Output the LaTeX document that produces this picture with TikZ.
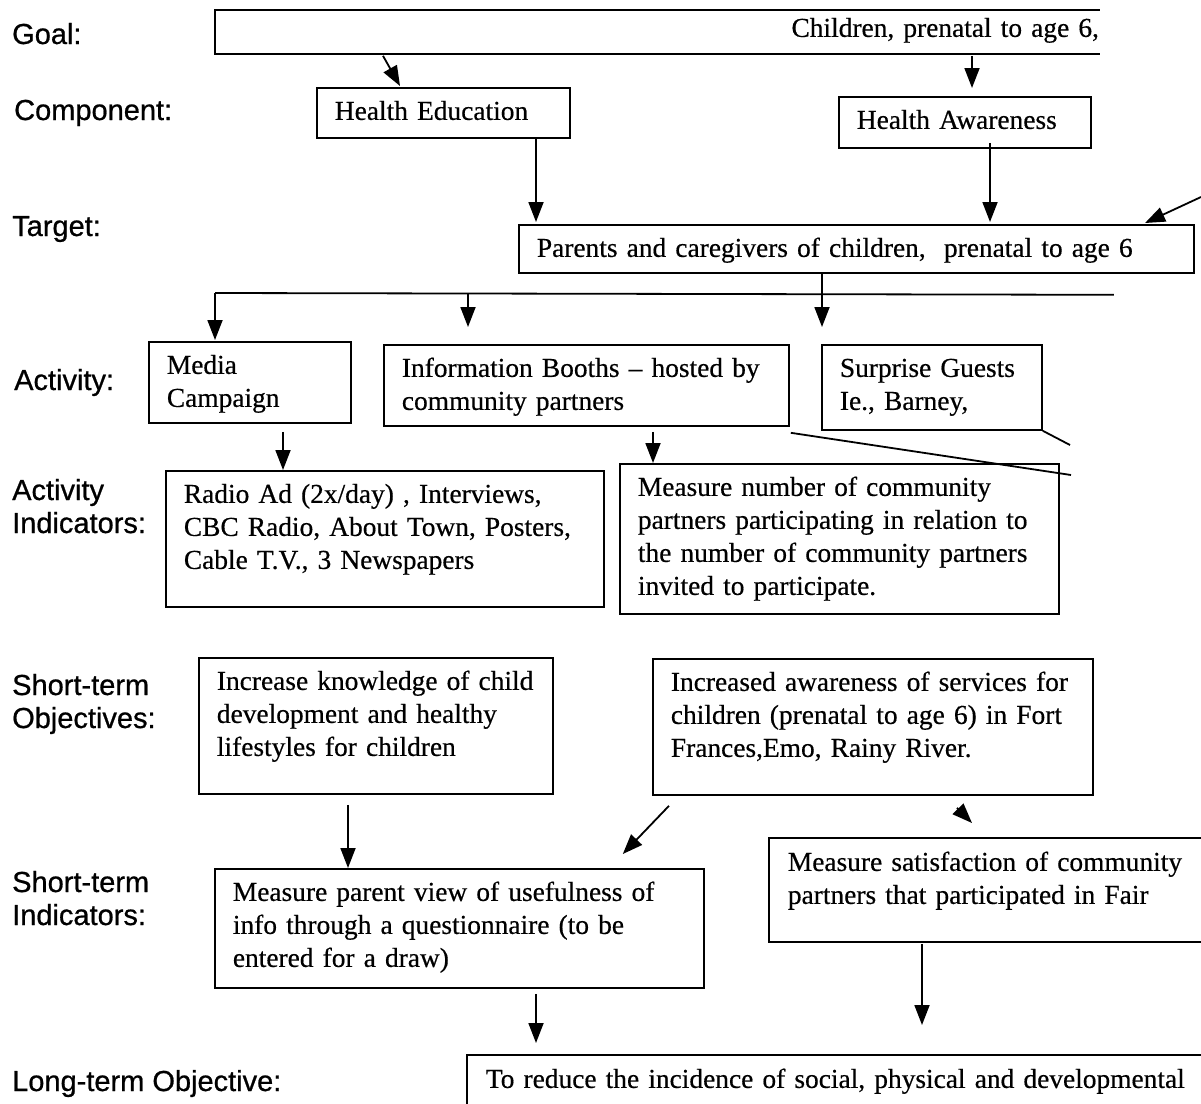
\documentclass[tikz,border=0pt]{standalone}
\usepackage{fontspec}
\setmainfont{Liberation Serif}
\setsansfont{Liberation Sans}
\newfontface\scanserif{Liberation Serif}[FakeBold=0.5]
\newfontface\scansans{Liberation Sans}[FakeBold=0.7]
\usetikzlibrary{arrows.meta,calc}
\newcommand\tx[1]{\begin{tabular}[t]{@{}l@{}}#1\end{tabular}}
\newcommand\bodyfnt{\scanserif\fontsize{27.4}{33}\selectfont}
\newcommand\labfnt{\scansans\fontsize{29}{33}\selectfont}
\tikzset{
  box/.style={draw, line width=1.8pt, anchor=north west, inner xsep=18pt, inner ysep=0pt,
              text height=32pt, align=left, font=\bodyfnt},
  lab/.style={anchor=base west, inner sep=0pt, font=\labfnt},
  arr/.style={line width=1.8pt, -{Triangle[length=20pt,width=15pt]}},
  ln/.style={line width=1.8pt}
}
\begin{document}
\begin{tikzpicture}[x=1pt,y=-1pt]
\fill[white] (0,0) rectangle (1201,1103);
\useasboundingbox (0,0) rectangle (1201,1103);

% row labels
\node[lab] (lgoal) at (12,44) {Goal:};
\node[lab] (lcomp) at (14,120) {Component:};
\node[lab] (ltarg) at (12,236) {Target:};
\node[lab] (lact) at (14,390) {Activity:};
\node[lab] (lactind) at (12,500) {\tx{Activity\\Indicators:}};
\node[lab] (lsto) at (12,695) {\tx{Short-term\\Objectives:}};
\node[lab] (lsti) at (12,892) {\tx{Short-term\\Indicators:}};
\node[lab] (llto) at (12,1091) {Long-term Objective:};

% boxes
\node[box, draw=none, inner xsep=0pt, text width=883pt, align=right, text height=26pt, text depth=16pt] (goal) at (215,10) {Children, prenatal to age 6,};
\draw[ln] (goal.north east) -- (goal.north west) -- (goal.south west) -- (goal.south east);

\node[box, text width=217pt, text depth=18pt] (he) at (316,87) {\tx{Health Education}};
\node[box, text width=216pt, text depth=19pt] (ha) at (838,96) {\tx{Health Awareness}};
\node[box, text width=639pt, text depth=16pt] (tg) at (518,224) {\tx{Parents and caregivers of children,\ \ prenatal to age 6}};

\node[box, text width=166pt, text depth=49pt] (mc) at (148,341) {\tx{Media\\Campaign}};
\node[box, text width=369pt, text depth=49pt] (ib) at (383,344) {\tx{Information Booths – hosted by\\community partners}};
\node[box, text width=184pt, text depth=53pt] (sg) at (821,344) {\tx{Surprise Guests\\Ie., Barney,}};

\node[box, text width=402pt, text depth=104pt] (ri) at (165,470) {\tx{Radio Ad (2x/day) , Interviews,\\CBC Radio, About Town, Posters,\\Cable T.V., 3 Newspapers}};
\node[box, text width=403pt, text depth=118pt] (mn) at (619,463) {\tx{Measure number of community\\partners participating in relation to\\the number of community partners\\invited to participate.}};

\node[box, text width=318pt, text depth=104pt] (o1) at (198,657) {\tx{Increase knowledge of child\\development and healthy\\lifestyles for children}};
\node[box, text width=404pt, text depth=104pt] (o2) at (652,658) {\tx{Increased awareness of services for\\children (prenatal to age 6) in Fort\\Frances,Emo, Rainy River.}};

\node[box, text width=453pt, text depth=87pt] (mp) at (214,868) {\tx{Measure parent view of usefulness of\\info through a questionnaire (to be\\entered for a draw)}};
\node[box, draw=none, text width=396pt, text depth=70pt] (ms) at (769,838) {\tx{Measure satisfaction of community\\partners that participated in Fair}};
\draw[ln] (ms.north east) -- (ms.north west) -- (ms.south west) -- (ms.south east);

\node[box, draw=none, text width=698pt, text depth=16pt] (lt) at (467,1055) {\tx{To reduce the incidence of social, physical and developmental}};
\draw[ln] (lt.north east) -- (lt.north west) -- (lt.south west);

% connectors
\draw[arr] ($(goal.south west)+(168,2)$) -- ($(he.north west)+(84,-1)$);
\draw[arr] ($(goal.south west)+(757,2)$) -- ($(ha.north west)+(134,-8)$);
\draw[arr] ($(he.south west)+(220,0)$) -- ($(tg.north west)+(18,-2)$);
\draw[arr] ($(ha.south west)+(152,-6)$) -- ($(tg.north west)+(472,-2)$);
\coordinate (ext) at (1201,197);
\draw[arr] (ext) -- ($(tg.north west)+(627,-1)$);

\coordinate (busL) at ($(mc.north west)+(67,-48)$);
\coordinate (busR) at ($(tg.south east)+(-81,21)$);
\draw[ln] (busL) -- (busR);
\draw[arr] (busL) -- ($(mc.north west)+(67,-1)$);
\draw[arr] ($(ib.north west)+(85,-51)$) -- ($(ib.north west)+(85,-17)$);
\draw[arr] ($(tg.south west)+(304,0)$) -- ($(sg.north west)+(1,-17)$);

\draw[arr] ($(mc.south west)+(135,8)$) -- ($(ri.north west)+(118,0)$);
\draw[arr] ($(ib.south west)+(270,5)$) -- ($(mn.north west)+(34,0)$);
\coordinate (e1) at (1071,475);
\coordinate (e2) at (1070,445);
\draw[ln] ($(ib.south east)+(1,6)$) -- (e1);
\draw[ln] (sg.south east) -- (e2);

\draw[arr] ($(o1.south west)+(150,10)$) -- ($(mp.north west)+(134,0)$);
\draw[arr] ($(o2.south west)+(17,10)$) -- ($(mp.north east)+(-82,-14)$);
\draw[arr] ($(o2.south west)+(305,12)$) -- ($(ms.north west)+(203,-15)$);

\draw[arr] ($(mp.south west)+(322,5)$) -- ($(lt.north west)+(69,-12)$);
\draw[arr] ($(ms.south west)+(153,2)$) -- ($(lt.north west)+(455,-30)$);
\end{tikzpicture}
\end{document}
